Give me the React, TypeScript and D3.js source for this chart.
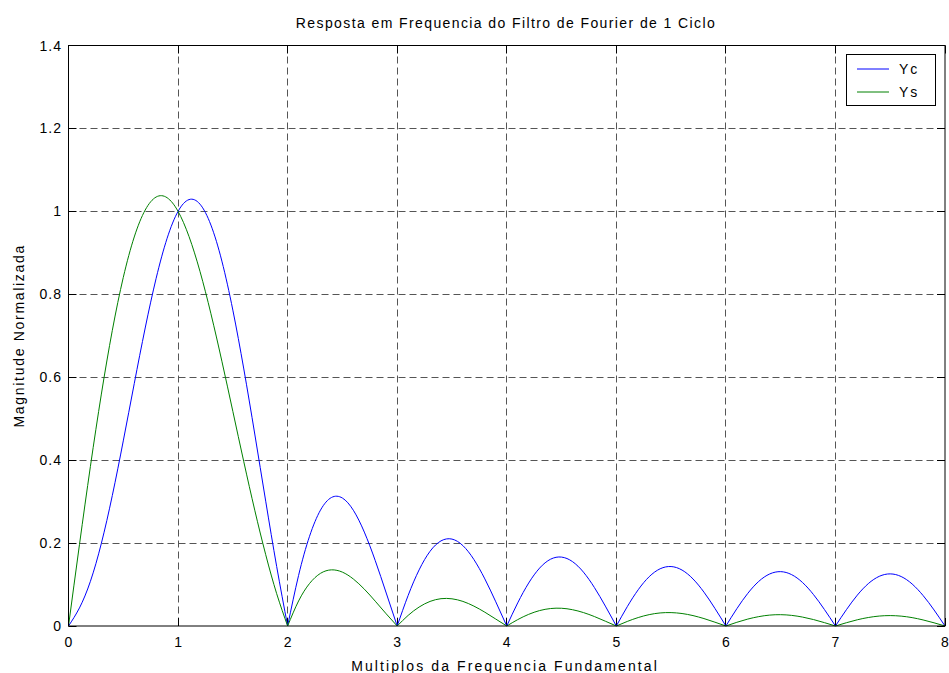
import React from 'react';
import * as d3 from 'd3';

const freq = [
  0, 0.1, 0.2, 0.3, 0.4, 0.5, 0.6, 0.7, 0.8, 0.9,
  1, 1.1, 1.2, 1.3, 1.4, 1.5, 1.6, 1.7, 1.8, 1.9,
  2, 2.1, 2.2, 2.3, 2.4, 2.5, 2.6, 2.7, 2.8, 2.9,
  3, 3.1, 3.2, 3.3, 3.4, 3.5, 3.6, 3.7, 3.8, 3.9,
  4, 4.1, 4.2, 4.3, 4.4, 4.5, 4.6, 4.7, 4.8, 4.9,
  5, 5.1, 5.2, 5.3, 5.4, 5.5, 5.6, 5.7, 5.8, 5.9,
  6, 6.1, 6.2, 6.3, 6.4, 6.5, 6.6, 6.7, 6.8, 6.9,
  7, 7.1, 7.2, 7.3, 7.4, 7.5, 7.6, 7.7, 7.8, 7.9,
  8,
];

const yc = [
  0, 0.0436, 0.1078, 0.1994, 0.3148, 0.4464, 0.5845, 0.7187, 0.8386, 0.935,
  1.0, 1.0284, 1.0174, 0.9669, 0.88, 0.7618, 0.6199, 0.463, 0.301, 0.1436,
  0, 0.122, 0.2164, 0.2795, 0.3099, 0.3086, 0.2791, 0.2265, 0.1575, 0.0795,
  0, 0.0737, 0.1353, 0.1802, 0.2053, 0.2096, 0.1938, 0.1604, 0.1136, 0.0583,
  0, 0.0557, 0.1036, 0.1397, 0.1611, 0.1662, 0.1553, 0.1299, 0.0928, 0.048,
  0, 0.0466, 0.0875, 0.1189, 0.138, 0.1434, 0.1349, 0.1135, 0.0816, 0.0425,
  0, 0.0417, 0.0787, 0.1076, 0.1255, 0.1311, 0.1239, 0.1048, 0.0757, 0.0396,
  0, 0.0393, 0.0745, 0.1022, 0.1198, 0.1257, 0.1193, 0.1013, 0.0735, 0.0387,
  0,
];

const ys = [
  0, 0.1962, 0.385, 0.5593, 0.713, 0.8406, 0.9382, 1.0032, 1.0346, 1.0329,
  1.0, 0.9393, 0.8553, 0.7531, 0.6386, 0.5176, 0.3961, 0.2793, 0.172, 0.078,
  0, 0.0603, 0.1025, 0.127, 0.1354, 0.1299, 0.1133, 0.0889, 0.0598, 0.0293,
  0, 0.0256, 0.0457, 0.0593, 0.0659, 0.0656, 0.0593, 0.048, 0.0333, 0.0167,
  0, 0.0154, 0.0281, 0.0372, 0.0421, 0.0428, 0.0393, 0.0324, 0.0228, 0.0116,
  0, 0.011, 0.0204, 0.0274, 0.0315, 0.0323, 0.0301, 0.0251, 0.0179, 0.0092,
  0, 0.0089, 0.0167, 0.0226, 0.0263, 0.0273, 0.0256, 0.0215, 0.0155, 0.0081,
  0, 0.0079, 0.015, 0.0205, 0.024, 0.0251, 0.0238, 0.0202, 0.0146, 0.0077,
  0,
];

const xTicks = [0, 1, 2, 3, 4, 5, 6, 7, 8];
const xTickLabels = ['0', '1', '2', '3', '4', '5', '6', '7', '8'];
const yTicks = [0, 0.2, 0.4, 0.6, 0.8, 1, 1.2, 1.4];
const yTickLabels = ['0', '0.2', '0.4', '0.6', '0.8', '1', '1.2', '1.4'];
const lobeBreaks = [0, 2, 3, 4, 5, 6, 7, 8];
const seriesNames = ['Yc', 'Ys'];
const seriesColors = ['#0000ff', '#008000'];

const titleText = 'Resposta em Frequencia do Filtro de Fourier de 1 Ciclo';
const xLabelText = 'Multiplos da Frequencia Fundamental';
const yLabelText = 'Magnitude Normalizada';

const FONT = '"Liberation Sans", Arial, Helvetica, sans-serif';

export default function App() {
  const W = 949;
  const H = 673;
  const L = 68.5;
  const R = 945;
  const T = 45.5;
  const B = 626;
  const x = d3.scaleLinear().domain([0, 8]).range([L, R]);
  const y = d3.scaleLinear().domain([0, 1.4]).range([B, T]);
  const crisp = (v: number) => Math.round(v - 0.5) + 0.5;
  const line = d3
    .line<[number, number]>()
    .x((d) => x(d[0]))
    .y((d) => y(d[1]))
    .curve(d3.curveNatural);

  const lobePaths = (vals: number[]) =>
    lobeBreaks.slice(0, -1).map((b, i) => {
      const e = lobeBreaks[i + 1];
      const pts = freq
        .map((f, j) => [f, vals[j]] as [number, number])
        .filter((p) => p[0] >= b - 1e-9 && p[0] <= e + 1e-9);
      return line(pts) || '';
    });

  const series = [yc, ys];
  const tickLen = 8;
  const gridColor = '#555';

  return (
    <svg
      width={W}
      height={H}
      style={{ position: 'absolute', left: 0, top: 0, background: '#fff' }}
      fontFamily={FONT}
    >
      <rect x={0} y={0} width={W} height={H} fill="#fff" />
      {/* grid */}
      {xTicks.slice(1, -1).map((t) => (
        <line
          key={'gx' + t}
          x1={crisp(x(t))}
          x2={crisp(x(t))}
          y1={T}
          y2={B}
          stroke={gridColor}
          strokeWidth={1}
          strokeDasharray="7,4"
        />
      ))}
      {yTicks.slice(1, -1).map((t) => (
        <line
          key={'gy' + t}
          x1={L}
          x2={R}
          y1={crisp(y(t))}
          y2={crisp(y(t))}
          stroke={gridColor}
          strokeWidth={1}
          strokeDasharray="7,4"
        />
      ))}
      {/* ticks */}
      {xTicks.map((t) => (
        <g key={'tx' + t}>
          <line x1={crisp(x(t))} x2={crisp(x(t))} y1={B} y2={B - tickLen} stroke="#000" />
          <line x1={crisp(x(t))} x2={crisp(x(t))} y1={T} y2={T + tickLen} stroke="#000" />
        </g>
      ))}
      {yTicks.map((t) => (
        <g key={'ty' + t}>
          <line x1={L} x2={L + tickLen} y1={crisp(y(t))} y2={crisp(y(t))} stroke="#000" />
          <line x1={R} x2={R - tickLen} y1={crisp(y(t))} y2={crisp(y(t))} stroke="#000" />
        </g>
      ))}
      {/* curves */}
      {series.map((vals, si) => (
        <g key={'s' + si} fill="none" stroke={seriesColors[si]} strokeWidth={1}>
          {lobePaths(vals).map((d, i) => (
            <path key={i} d={d} />
          ))}
        </g>
      ))}
      {/* box */}
      <rect x={L} y={T} width={R - L} height={B - T} fill="none" stroke="#000" strokeWidth={1} />
      {/* tick labels */}
      {xTicks.map((t, i) => (
        <text
          key={'lx' + t}
          x={x(t)}
          y={646.5}
          textAnchor="middle"
          fontSize={14}
          fill="#000"
        >
          {xTickLabels[i]}
        </text>
      ))}
      {yTicks.map((t, i) => (
        <text
          key={'ly' + t}
          x={62}
          y={y(t) + 5}
          textAnchor="end"
          fontSize={14}
          letterSpacing={1}
          fill="#000"
        >
          {yTickLabels[i]}
        </text>
      ))}
      {/* title and labels */}
      <text x={506} y={28} textAnchor="middle" fontSize={14} letterSpacing={1.4} fill="#000">
        {titleText}
      </text>
      <text x={505} y={670.5} textAnchor="middle" fontSize={14} letterSpacing={2.1} fill="#000">
        {xLabelText}
      </text>
      <text
        transform={`translate(24, ${(T + B) / 2}) rotate(-90)`}
        textAnchor="middle"
        fontSize={14}
        letterSpacing={1.7}
        fill="#000"
      >
        {yLabelText}
      </text>
      {/* legend */}
      <g>
        <rect x={846.5} y={54.5} width={89} height={51} fill="#fff" stroke="#000" strokeWidth={1} />
        {seriesNames.map((n, i) => (
          <g key={n}>
            <line
              x1={857}
              x2={889}
              y1={69 + i * 23}
              y2={69 + i * 23}
              stroke={seriesColors[i]}
              strokeWidth={1}
            />
            <text x={899} y={74 + i * 23} fontSize={14} letterSpacing={2} fill="#000">
              {n}
            </text>
          </g>
        ))}
      </g>
    </svg>
  );
}
